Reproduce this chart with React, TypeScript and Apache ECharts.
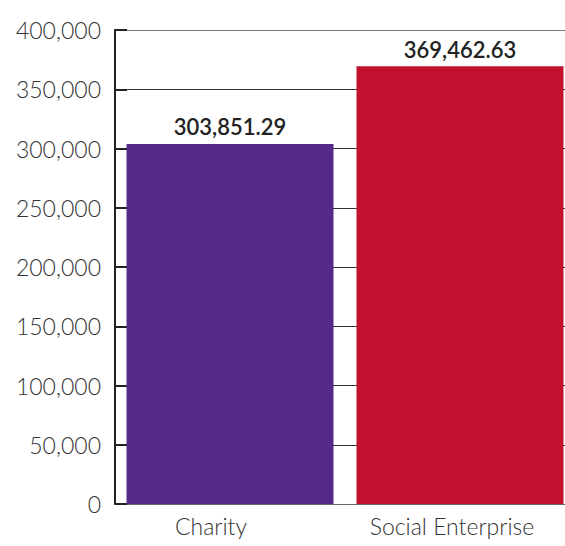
import React, { useEffect, useRef } from "react";
import * as echarts from "echarts";

const categories = ["Charity", "Social Enterprise"];
const values = [303851.29, 369462.63];
const barColors = ["#552988", "#C1112F"];

export default function App() {
  const ref = useRef<HTMLDivElement>(null);
  useEffect(() => {
    document.body.style.margin = "0";
    const chart = echarts.init(ref.current!, null, { renderer: "svg" });
    const fmt = (v: number) =>
      v.toLocaleString("en-US", { minimumFractionDigits: 2, maximumFractionDigits: 2 });
    const labelPad = [[0, 38, 0, 0], [0, 16, 0, 0]];
    chart.setOption({
      animation: false,
      grid: {
        left: 115,
        right: -10,
        top: 30,
        bottom: 42,
        containLabel: false,
        outerBoundsMode: "none",
      },
      xAxis: {
        type: "category",
        data: categories.map((c, i) => ({ value: c, textStyle: { padding: labelPad[i] } })),
        axisLine: { show: true, lineStyle: { color: "#666", width: 1 } },
        axisTick: { show: false },
        axisLabel: {
          color: "#333",
          fontFamily: "Lato",
          fontWeight: 300,
          fontSize: 23,
          margin: 10,
        },
      },
      yAxis: {
        type: "value",
        min: 0,
        max: 400000,
        interval: 50000,
        axisLine: { show: true, lineStyle: { color: "#222", width: 2 } },
        axisTick: { show: true, inside: true, length: 12, lineStyle: { color: "#222", width: 2 } },
        axisLabel: {
          color: "#333",
          fontFamily: "Lato",
          fontWeight: 300,
          fontSize: 23,
          margin: 14,
          formatter: (v: number) => v.toLocaleString("en-US"),
        },
        splitLine: {
          show: true,
          lineStyle: {
            color: ["#666", "#333", "#333", "#333", "#333", "#333", "#333", "#333", "#777"],
            width: 1,
          },
        },
      },
      series: [
        {
          type: "bar",
          barWidth: "90%",
          data: values.map((v, i) => ({ value: v, itemStyle: { color: barColors[i] } })),
          label: {
            show: true,
            position: "top",
            distance: 6,
            color: "#222",
            fontFamily: "Lato",
            fontWeight: 600,
            fontSize: 22,
            formatter: (p: any) => fmt(p.value),
          },
        },
      ],
    });
    return () => chart.dispose();
  }, []);
  return <div ref={ref} style={{ width: 565, height: 546 }} />;
}
